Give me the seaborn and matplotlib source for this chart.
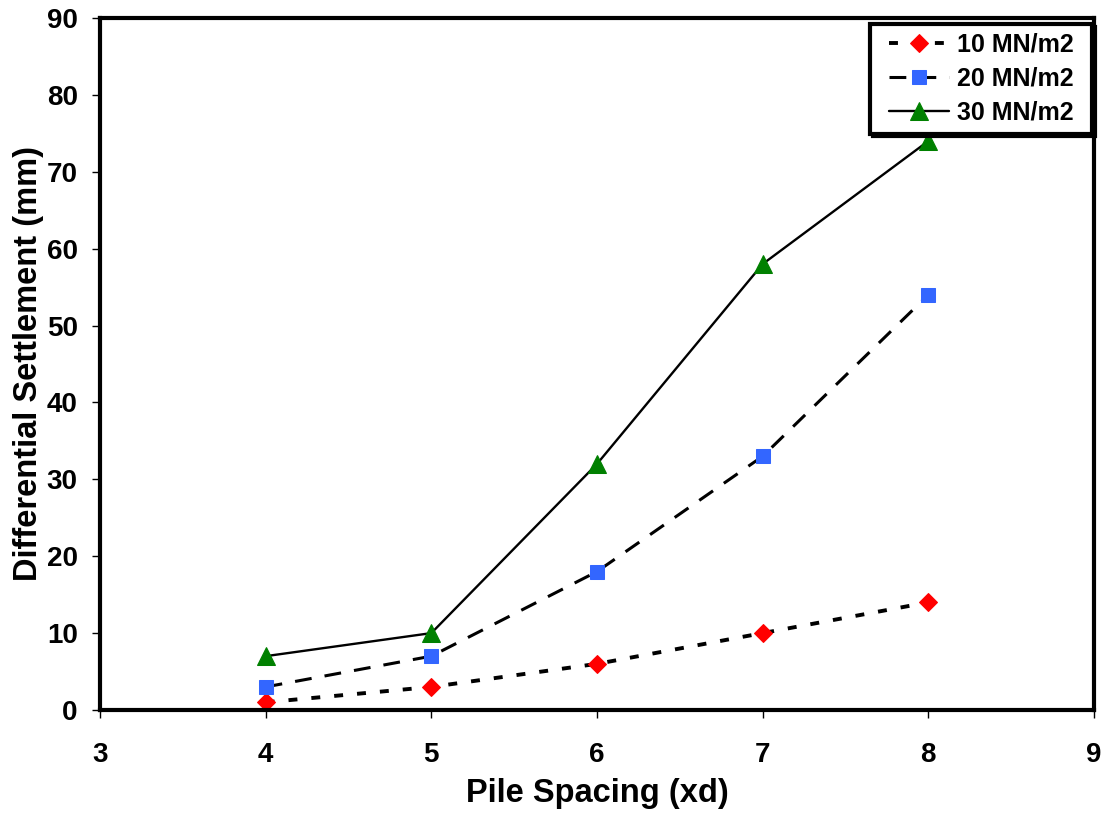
import matplotlib
matplotlib.use("Agg")
import matplotlib.pyplot as plt
import seaborn as sns
import pandas as pd
from matplotlib.path import Path

spacing = [4, 5, 6, 7, 8]
s10 = [1, 3, 6, 10, 14]
s20 = [3, 7, 18, 33, 54]
s30 = [7, 10, 32, 58, 74]
labels = ["10 MN/m2", "20 MN/m2", "30 MN/m2"]

sns.set_theme(style="ticks", rc={
    "text.color": "black", "axes.labelcolor": "black",
    "xtick.color": "black", "ytick.color": "black", "axes.edgecolor": "black",
})
plt.rcParams['font.family'] = ['Liberation Sans', 'DejaVu Sans']
plt.rcParams['font.weight'] = 'bold'

fig = plt.figure(figsize=(11.07, 8.13), dpi=100)
ax = fig.add_axes([0.0903, 0.1267, 0.8980, 0.8512])

styles = [
    dict(color="#FF0000", marker="D", ms=9.2, ls=(0, (2.3, 3.6)), lw=2.8),
    dict(color="#3366FF", marker="s", ms=10, ls=(0, (5.5, 4.3)), lw=2.2),
    dict(color="#008000", marker="^", ms=13.5, ls="-", lw=1.7),
]
for vals, lab, st in zip([s10, s20, s30], labels, styles):
    df = pd.DataFrame({"x": spacing, "y": vals})
    sns.lineplot(data=df, x="x", y="y", ax=ax, color="black", linestyle=st["ls"],
                 linewidth=st["lw"], marker=st["marker"], markersize=st["ms"],
                 markerfacecolor=st["color"], markeredgecolor=st["color"], label=lab)

ax.set_xlim(3, 9)
ax.set_ylim(0, 90)
ax.set_xticks(range(3, 10))
ax.set_yticks(range(0, 91, 10))
ax.tick_params(axis="both", direction="out", length=6, width=1, labelsize=20, color="black")
ax.tick_params(axis="x", pad=17)
ax.tick_params(axis="y", pad=10)
for lbl in ax.get_xticklabels() + ax.get_yticklabels():
    lbl.set_fontweight("bold")
for sp in ax.spines.values():
    sp.set_visible(True)
    sp.set_linewidth(3)
    sp.set_color("black")
ax.set_xlabel("Pile Spacing (xd)", fontsize=23.5, fontweight="bold", labelpad=7)
ax.set_ylabel("Differential Settlement (mm)", fontsize=23.5, fontweight="bold", labelpad=2)

leg = ax.legend(loc="upper right", bbox_to_anchor=(0.988, 0.991), borderaxespad=0, fontsize=18,
                frameon=True, fancybox=False, shadow={"color": "black", "alpha": 1},
                handlelength=2.4, borderpad=0.35, labelspacing=0.4, handletextpad=0.3)


def hpad_box(x0, y0, width, height, mutation_size):
    p = 0.4 * mutation_size
    verts = [(x0 - p, y0), (x0 + width + p, y0), (x0 + width + p, y0 + height),
             (x0 - p, y0 + height), (x0 - p, y0)]
    return Path(verts, closed=True)


leg.legendPatch.set_boxstyle(hpad_box)
leg.get_frame().set_edgecolor("black")
leg.get_frame().set_linewidth(3)
leg.get_frame().set_facecolor("white")
leg.get_frame().set_alpha(1)
for t in leg.get_texts():
    t.set_fontweight("bold")

fig.savefig("out.png", dpi=100)
